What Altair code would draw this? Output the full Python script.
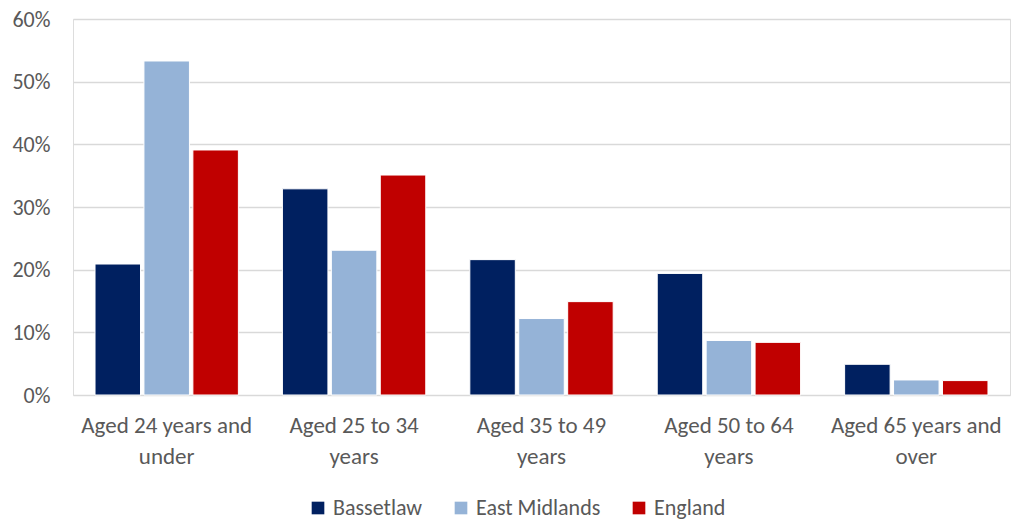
import altair as alt
import pandas as pd

# Share of people by age band, per area
age_bands = [
    "Aged 24 years and under",
    "Aged 25 to 34 years",
    "Aged 35 to 49 years",
    "Aged 50 to 64 years",
    "Aged 65 years and over",
]
areas = ["Bassetlaw", "East Midlands", "England"]
bassetlaw = [0.209, 0.329, 0.216, 0.194, 0.049]
east_midlands = [0.533, 0.231, 0.122, 0.087, 0.024]
england = [0.391, 0.351, 0.149, 0.084, 0.023]
area_colors = ["#002060", "#95B3D7", "#C00000"]

rows = []
for area, values in zip(areas, [bassetlaw, east_midlands, england]):
    for band, v in zip(age_bands, values):
        rows.append({"band": band, "area": area, "share": v})
df = pd.DataFrame(rows)

FONT = "Carlito, Lato, sans-serif"
TEXT = "#595959"
SIZE = 22

label_expr = (
    "datum.value == 'Aged 24 years and under' ? ['Aged 24 years and', 'under'] : "
    "datum.value == 'Aged 25 to 34 years' ? ['Aged 25 to 34', 'years'] : "
    "datum.value == 'Aged 35 to 49 years' ? ['Aged 35 to 49', 'years'] : "
    "datum.value == 'Aged 50 to 64 years' ? ['Aged 50 to 64', 'years'] : "
    "['Aged 65 years and', 'over']"
)

chart = (
    alt.Chart(df)
    .mark_bar(stroke="white", strokeWidth=1)
    .encode(
        x=alt.X(
            "band:N",
            sort=age_bands,
            title=None,
            scale=alt.Scale(paddingInner=0.235, paddingOuter=0.1175),
            axis=alt.Axis(
                labelAngle=0,
                labelExpr=label_expr,
                labelFont=FONT,
                labelFontSize=23,
                labelColor=TEXT,
                labelLineHeight=31,
                labelPadding=19,
                labelLimit=300,
                ticks=False,
                domain=False,
                grid=False,
            ),
        ),
        xOffset=alt.XOffset(
            "area:N", sort=areas, scale=alt.Scale(paddingInner=0.07)
        ),
        y=alt.Y(
            "share:Q",
            title=None,
            scale=alt.Scale(domain=[0, 0.6], nice=False),
            axis=alt.Axis(
                format=".0%",
                values=[0, 0.1, 0.2, 0.3, 0.4, 0.5, 0.6],
                labelFont=FONT,
                labelFontSize=SIZE,
                labelColor=TEXT,
                labelPadding=23,
                ticks=False,
                domain=False,
                gridColor="#D9D9D9",
                gridWidth=1.5,
            ),
        ),
        color=alt.Color(
            "area:N",
            sort=areas,
            scale=alt.Scale(domain=areas, range=area_colors),
            legend=alt.Legend(
                title=None,
                orient="none",
                direction="horizontal",
                legendX=234,
                legendY=478,
                symbolType="square",
                symbolSize=160,
                symbolStrokeWidth=0,
                labelFont=FONT,
                labelFontSize=SIZE,
                labelColor=TEXT,
                labelLimit=300,
                columnPadding=27,
                labelOffset=4,
            ),
        ),
    )
    .properties(
        width=937,
        height=376,
        autosize=alt.AutoSizeParams(type="none"),
        padding={"left": 73, "top": 19, "right": 3, "bottom": 128},
    )
    .configure_view(stroke=None)
    .configure(background="white")
)

chart.save("out.html", embed_options={"renderer": "svg", "actions": False})
